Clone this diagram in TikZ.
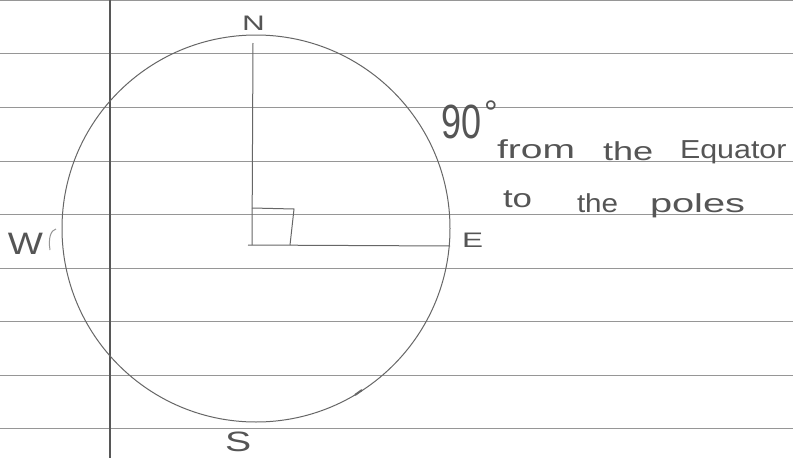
\documentclass[tikz,border=0pt]{standalone}
\usepackage{fontspec}
\usepackage{graphicx}
\setmainfont{Liberation Sans}
\newcommand\hwtext[3]{\fontsize{#1}{#1}\selectfont\scalebox{#2}[1]{#3}}
\definecolor{rulecol}{HTML}{969696}
\definecolor{pencil}{HTML}{666666}
\definecolor{inkcol}{HTML}{555555}
\begin{document}
\begin{tikzpicture}[x=1pt,y=-1pt,
  rule/.style={draw=rulecol,line width=0.9pt},
  margin/.style={draw=pencil!85!black,line width=1.3pt},
  pen/.style={draw=pencil,line width=1pt},
  hand/.style={inner sep=0pt,outer sep=0pt,anchor=base west,text=inkcol},
]
\useasboundingbox[fill=white] (0,0) rectangle (793,458);
% ruled lines
\foreach \yy in {0.6,53,107,161,214,268,321,375,428}{
  \draw[rule] (0,\yy) -- (793,\yy);
}
% margin line
\draw[margin] (110,0) -- (110,458);
% globe
\coordinate (C) at (256,228.5);
\draw[pen] (C) ellipse [x radius=194, y radius=193.5];
% axes
\coordinate (Ntop) at (253,43);
\coordinate (O) at (252,245);
\coordinate (Eend) at (450,246);
\coordinate (Ostart) at (248,245);
\draw[pen] (Ntop) -- (O);
\draw[pen] (Ostart) -- (Eend);
% right angle mark
\coordinate (R1) at (252,208);
\coordinate (R2) at (294,209);
\coordinate (R3) at (290,245);
\draw[pen] (R1) -- (R2) -- (R3);
% small mark on circle
\coordinate (M1) at (355,395);
\coordinate (M2) at (362,390);
\draw[pen,line width=2pt] (M1) -- (M2);
% stroke after W
\coordinate (Wa) at (50,250);
\coordinate (Wb) at (56,229);
\draw[draw=rulecol,line width=1pt] (Wa) .. controls (48,238) and (51,230) .. (Wb);
% labels
\node[hand] (N) at (242,30) {\hwtext{21}{1.5}{N}};
\node[hand] (E) at (462,247) {\hwtext{21}{1.5}{E}};
\node[hand] (S) at (225,451) {\hwtext{28}{1.4}{S}};
\node[hand] (W) at (8,254) {\hwtext{31}{1.2}{W}};
% note
\node[hand] (n90) at (441,138) {\hwtext{48}{0.75}{90}};
\node[hand] (deg) at (484,124) {\hwtext{34}{1}{°}};
\node[hand] (w1) at (497,158) {\hwtext{26}{1.5}{from}};
\node[hand] (w2) at (603,160) {\hwtext{26}{1.39}{the}};
\node[hand] (w3) at (680,158) {\hwtext{26}{1.17}{Equator}};
\node[hand] (w4) at (503,207) {\hwtext{26}{1.34}{to}};
\node[hand] (w5) at (577,212) {\hwtext{26}{1.14}{the}};
\node[hand] (w6) at (650,212) {\hwtext{26}{1.53}{poles}};
\end{tikzpicture}
\end{document}
